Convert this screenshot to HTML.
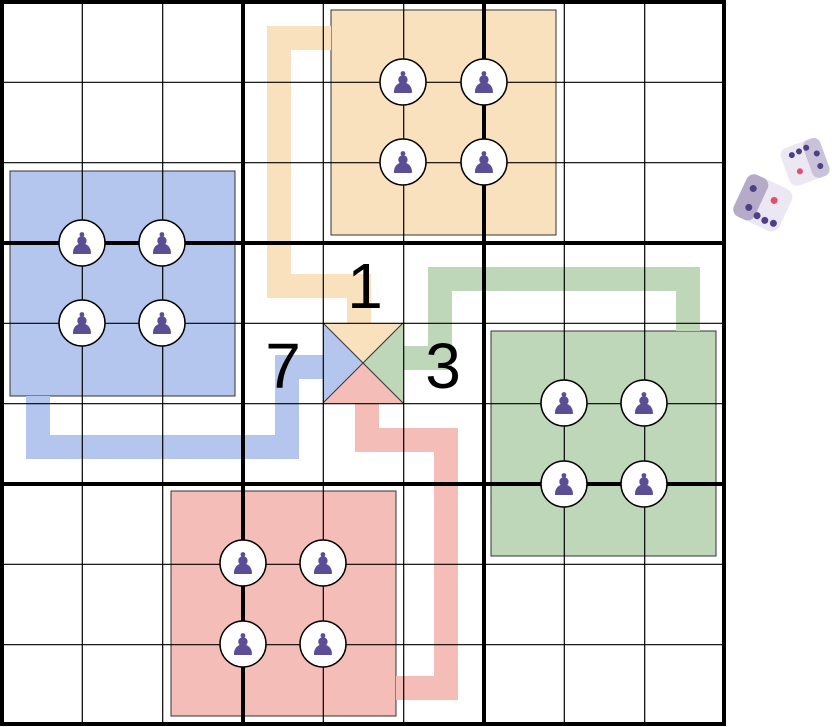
<!DOCTYPE html>
<html><head><style>body{margin:0;background:#fff}svg{display:block}</style></head><body>
<svg width="832" height="727" viewBox="0 0 832 727" xmlns="http://www.w3.org/2000/svg">
<rect width="832" height="727" fill="#fff"/>
<rect x="331" y="10" width="225" height="225" fill="#f9e1be" stroke="#333" stroke-width="1"/>
<rect x="10" y="171" width="225" height="225" fill="#b4c6ee" stroke="#333" stroke-width="1"/>
<rect x="491" y="331" width="225" height="225" fill="#bfd7b9" stroke="#333" stroke-width="1"/>
<rect x="171" y="491" width="225" height="225" fill="#f5bdb8" stroke="#333" stroke-width="1"/>
<g fill="none" stroke-width="24" stroke-linejoin="miter">
<polyline points="331,38 279,38 279,286 359,286 359,323" stroke="#f9e1be"/>
<polyline points="403,358 440,358 440,279 688,279 688,331" stroke="#bfd7b9"/>
<polyline points="323,367 287,367 287,447 38,447 38,396" stroke="#b4c6ee"/>
<polyline points="367,403 367,440 446,440 446,688 396,688" stroke="#f5bdb8"/>
</g>
<polygon points="323,323 403,323 363,363" fill="#f9e1be"/>
<polygon points="403,323 403,403 363,363" fill="#bfd7b9"/>
<polygon points="323,403 403,403 363,363" fill="#f5bdb8"/>
<polygon points="323,323 323,403 363,363" fill="#b4c6ee"/>
<line x1="323" y1="323" x2="403" y2="403" stroke="#333" stroke-width="1"/>
<line x1="403" y1="323" x2="323" y2="403" stroke="#333" stroke-width="1"/>
<g stroke="#000" stroke-width="1.2">
<line x1="82.3" y1="2" x2="82.3" y2="724"/><line x1="162.7" y1="2" x2="162.7" y2="724"/>
<line x1="323.3" y1="2" x2="323.3" y2="724"/><line x1="403.7" y1="2" x2="403.7" y2="724"/>
<line x1="564.3" y1="2" x2="564.3" y2="724"/><line x1="644.7" y1="2" x2="644.7" y2="724"/>
<line y1="82.3" x1="2" y2="82.3" x2="724"/><line y1="162.7" x1="2" y2="162.7" x2="724"/>
<line y1="323.3" x1="2" y2="323.3" x2="724"/><line y1="403.7" x1="2" y2="403.7" x2="724"/>
<line y1="564.3" x1="2" y2="564.3" x2="724"/><line y1="644.7" x1="2" y2="644.7" x2="724"/>
</g>
<g stroke="#000" stroke-width="4">
<line x1="243" y1="2" x2="243" y2="724"/><line x1="484" y1="2" x2="484" y2="724"/>
<line y1="243" x1="2" y2="243" x2="724"/><line y1="484" x1="2" y2="484" x2="724"/>
<rect x="2" y="2" width="722" height="722" fill="none"/>
</g>
<g font-family="DejaVu Sans, sans-serif" font-size="30" fill="#5b4e96" text-anchor="middle">
<g stroke="#000" stroke-width="1.5" fill="#fff">
<circle cx="403" cy="82" r="23"/><circle cx="484" cy="82" r="23"/><circle cx="403" cy="162" r="23"/><circle cx="484" cy="162" r="23"/>
<circle cx="82" cy="243" r="23"/><circle cx="162" cy="243" r="23"/><circle cx="82" cy="323" r="23"/><circle cx="162" cy="323" r="23"/>
<circle cx="564" cy="403" r="23"/><circle cx="644" cy="403" r="23"/><circle cx="564" cy="484" r="23"/><circle cx="644" cy="484" r="23"/>
<circle cx="243" cy="563" r="23"/><circle cx="323" cy="563" r="23"/><circle cx="243" cy="644" r="23"/><circle cx="323" cy="644" r="23"/>
</g>
<text x="403" y="93">♟</text><text x="484" y="93">♟</text><text x="403" y="173">♟</text><text x="484" y="173">♟</text>
<text x="82" y="254">♟</text><text x="162" y="254">♟</text><text x="82" y="334">♟</text><text x="162" y="334">♟</text>
<text x="564" y="414">♟</text><text x="644" y="414">♟</text><text x="564" y="495">♟</text><text x="644" y="495">♟</text>
<text x="243" y="574">♟</text><text x="323" y="574">♟</text><text x="243" y="655">♟</text><text x="323" y="655">♟</text>
</g>
<g font-family="Liberation Sans, sans-serif" font-size="64" fill="#000" text-anchor="middle">
<text x="365" y="308">1</text>
<text x="283" y="388">7</text>
<text x="443" y="388">3</text>
</g>
<g transform="translate(805,162) rotate(-20)">
<rect x="-21" y="-20" width="42" height="40" rx="8" fill="#ece8f3"/>
<rect x="3" y="-20" width="18" height="40" rx="7" fill="#c9c2d8"/>
<circle cx="-10" cy="-11" r="3" fill="#4e3f86"/><circle cx="-2" cy="-12" r="3" fill="#4e3f86"/><circle cx="6" cy="-13" r="3" fill="#4e3f86"/>
<circle cx="-8" cy="7" r="3" fill="#e0506e"/><circle cx="14" cy="-4" r="3" fill="#4e3f86"/><circle cx="13" cy="9" r="3" fill="#4e3f86"/>
</g>
<g transform="translate(763,203) rotate(25)">
<rect x="-25" y="-23" width="50" height="46" rx="9" fill="#ece8f3"/>
<rect x="-25" y="-23" width="23" height="46" rx="8" fill="#b5aac8"/>
<circle cx="-15" cy="-9" r="3.5" fill="#4e3f86"/><circle cx="-11" cy="10" r="3.5" fill="#4e3f86"/>
<circle cx="9" cy="-7" r="3.5" fill="#e0506e"/>
<circle cx="0" cy="14" r="3.5" fill="#4e3f86"/><circle cx="9" cy="15" r="3.5" fill="#4e3f86"/><circle cx="18" cy="14" r="3.5" fill="#4e3f86"/>
</g>
</svg>
</body></html>
